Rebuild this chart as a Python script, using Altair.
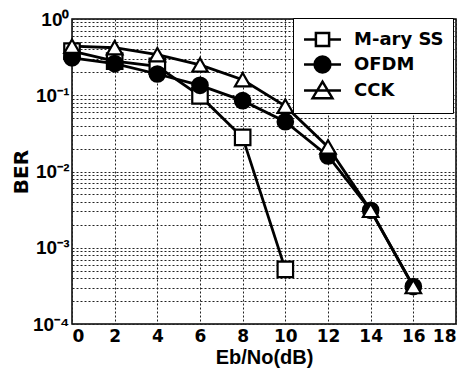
import altair as alt
import pandas as pd

ebno = [0, 2, 4, 6, 8, 10, 12, 14, 16]
series_names = ["M-ary SS", "OFDM", "CCK"]
mary = [0.38, 0.28, 0.24, 0.098, 0.028, 0.00052, None, None, None]
ofdm = [0.31, 0.26, 0.19, 0.135, 0.085, 0.045, 0.016, 0.0031, 0.00031]
cck = [0.44, 0.42, 0.34, 0.25, 0.16, 0.072, 0.021, 0.0031, 0.00031]

rows = []
for name, vals in zip(series_names, [mary, ofdm, cck]):
    for x, v in zip(ebno, vals):
        if v is not None:
            rows.append({"x": x, "ber": v, "series": name})
df = pd.DataFrame(rows)

x_ticks = [0, 2, 4, 6, 8, 10, 12, 14, 16, 18]
decade_exps = [-4, -3, -2, -1, 0]
decade_labels = ["10\u207b\u2074", "10\u207b\u00b3", "10\u207b\u00b2", "10\u207b\u00b9", "10\u2070"]
y_ticks = [k * 10.0 ** e for e in decade_exps[:-1] for k in range(1, 10)] + [1]

label_expr = "''"
for e, lab in zip(decade_exps, decade_labels):
    label_expr = f"(abs(log(datum.value)/LN10 - ({e})) < 0.001 ? '{lab}' : {label_expr})"

FONT = "DejaVu Sans"
FONT2 = "Liberation Sans"

x_enc = alt.X("x:Q", scale=alt.Scale(domain=[0, 18], nice=False),
              axis=alt.Axis(values=x_ticks, title="Eb/No(dB)", ticks=False,
                            labelFontSize=17, labelFontWeight="bold", labelFont=FONT,
                            titleFontSize=20, titleFontWeight="bold", titleFont=FONT2,
                            labelPadding=4, titlePadding=3, labelColor="black", titleColor="black",
                            grid=True, gridDash=[2, 2], gridColor="#222", gridWidth=1,
                            domain=False))
y_enc = alt.Y("ber:Q", scale=alt.Scale(type="log", domain=[1e-4, 1], nice=False),
              axis=alt.Axis(values=y_ticks, labelExpr=label_expr, title="BER", ticks=False,
                            labelFontSize=19, labelFontWeight="bold", labelFont=FONT2,
                            titleFontSize=20, titleFontWeight="bold", titleFont=FONT,
                            labelPadding=3, titlePadding=1, labelColor="black", titleColor="black",
                            grid=True, gridDash=[2, 2], gridColor="#222", gridWidth=1,
                            domain=False, labelOverlap=False))

base = alt.Chart(df)

lines = base.mark_line(color="black", strokeWidth=2.8).encode(
    x=x_enc, y=y_enc, detail="series:N")

shape_range = ["square", "circle", "triangle-up"]
fill_range = ["white", "black", "white"]

points = base.mark_point(stroke="black", strokeWidth=2.2, size=240, opacity=1, filled=False).encode(
    x=alt.X("x:Q"), y=alt.Y("ber:Q"),
    shape=alt.Shape("series:N", scale=alt.Scale(domain=series_names, range=shape_range), legend=None),
    fill=alt.Fill("series:N", scale=alt.Scale(domain=series_names, range=fill_range), legend=None),
)

disk = "".join(
    f"M{-r:.2f},0A{r:.2f},{r:.2f} 0 1,0 {r:.2f},0A{r:.2f},{r:.2f} 0 1,0 {-r:.2f},0Z"
    for r in [0.72, 0.62, 0.52, 0.42, 0.32, 0.22, 0.12, 0.05]
)
leg_shapes = [
    "M-1.68,0H-0.6M0.6,0H1.68M-0.6,-0.6H0.6V0.6H-0.6Z",
    "M-1.68,0H1.68" + disk,
    "M-1.68,0H1.68M0,-0.8L0.9,0.7H-0.9Z",
]
legend_layer = base.mark_point(stroke="black", strokeWidth=2.5, size=484, opacity=0, filled=False).encode(
    x=alt.X("x:Q"), y=alt.Y("ber:Q"),
    shape=alt.Shape("series:N", scale=alt.Scale(domain=series_names, range=leg_shapes),
                    legend=alt.Legend(title=None, orient="none", legendX=221, legendY=-1,
                                      labelFontSize=18, labelFontWeight="bold", labelFont=FONT,
                                      labelColor="black", symbolOpacity=1, symbolStrokeColor="black",
                                      symbolFillColor="white",
                                      symbolStrokeWidth=2.5, symbolSize=484, symbolOffset=8,
                                      strokeColor="black", fillColor="white", padding=9,
                                      rowPadding=-3, labelOffset=19, symbolLimit=0)),
)

chart = alt.layer(lines, points, legend_layer).resolve_scale(
    shape="independent", fill="independent"
).properties(
    width=384, height=305,
    autosize=alt.AutoSizeParams(type="none"),
    padding={"left": 64, "top": 11, "right": 8, "bottom": 44},
    background="white",
).configure_view(stroke="black", strokeWidth=1.5)

chart.save("out.html", embed_options={"renderer": "svg", "actions": False})
